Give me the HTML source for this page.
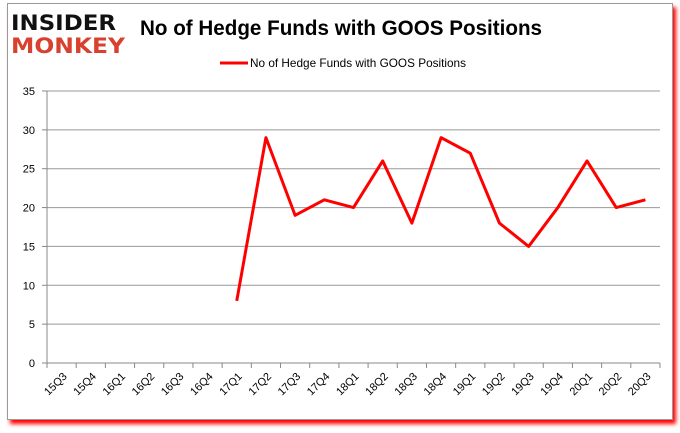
<!DOCTYPE html>
<html><head><meta charset="utf-8"><style>
body{margin:0;background:#fff;width:680px;height:433px;overflow:hidden;font-family:"Liberation Sans",sans-serif}
#frame{position:absolute;left:7px;top:3px;width:664px;height:415px;border:1px solid #999;background:#fff;box-shadow:3px 4px 4px #f00}
</style></head><body>
<div id="frame"></div>
<svg id="c" width="680" height="433" style="position:absolute;left:0;top:0">
<g>
<text x="11" y="30" font-size="21" font-weight="bold" font-family="DejaVu Sans" fill="#111" textLength="105" lengthAdjust="spacingAndGlyphs">INSIDER</text>
<text x="11" y="53" font-size="21" font-weight="bold" font-family="DejaVu Sans" fill="#d9412f" textLength="114" lengthAdjust="spacingAndGlyphs">MONKEY</text>
</g>
<text x="140" y="35" font-size="21" font-weight="bold" fill="#000" textLength="402" lengthAdjust="spacingAndGlyphs">No of Hedge Funds with GOOS Positions</text>
<g>
<line x1="220" y1="63" x2="248" y2="63" stroke="#f00" stroke-width="3"/>
<text x="250" y="67" font-size="12" fill="#000" textLength="216" lengthAdjust="spacingAndGlyphs">No of Hedge Funds with GOOS Positions</text>
</g>
<g id="axes"></g>
</svg>
<script>
const categories=["15Q3","15Q4","16Q1","16Q2","16Q3","16Q4","17Q1","17Q2","17Q3","17Q4","18Q1","18Q2","18Q3","18Q4","19Q1","19Q2","19Q3","19Q4","20Q1","20Q2","20Q3"];
const values=[null,null,null,null,null,null,8,29,19,21,20,26,18,29,27,18,15,20,26,20,21];
const yTicks=[0,5,10,15,20,25,30,35];
const L=47,R=660,T=91,B=363,ymax=35;
const ns="http://www.w3.org/2000/svg";
const g=document.getElementById('axes');
const step=(R-L)/categories.length;
function x(i){return L+(i+0.5)*step;}
function y(v){return B-(v/ymax)*(B-T);}
function mk(t,a){const e=document.createElementNS(ns,t);for(const k in a)e.setAttribute(k,a[k]);g.appendChild(e);return e;}
yTicks.forEach(v=>{
 const l=mk('line',{x1:L,x2:R,y1:y(v),y2:y(v),stroke:v===0?'#888':'#999','stroke-width':1});
 
 
 mk('line',{x1:L-5,x2:L,y1:y(v),y2:y(v),stroke:'#888'});
 const t=mk('text',{x:L-12,y:y(v)+4,'font-size':11,'text-anchor':'end',fill:'#000'});t.textContent=v;
 
 
});
mk('line',{x1:L,x2:L,y1:T,y2:B,stroke:'#888'});
categories.forEach((c,i)=>{
 mk('line',{x1:L+i*step,x2:L+i*step,y1:B,y2:B+5,stroke:'#888'});
 const t=mk('text',{x:0,y:0,'font-size':11,'text-anchor':'end',fill:'#000',transform:`translate(${x(i)+6},${B+14}) rotate(-45)`});t.textContent=c;
 
 
});
mk('line',{x1:R,x2:R,y1:B,y2:B+5,stroke:'#888'});
let d='';values.forEach((v,i)=>{if(v==null)return;d+=(d?'L':'M')+x(i)+','+y(v);});
const p=mk('path',{d:d,fill:'none',stroke:'#f00','stroke-width':3,'stroke-linejoin':'round'});


</script>
</body></html>
